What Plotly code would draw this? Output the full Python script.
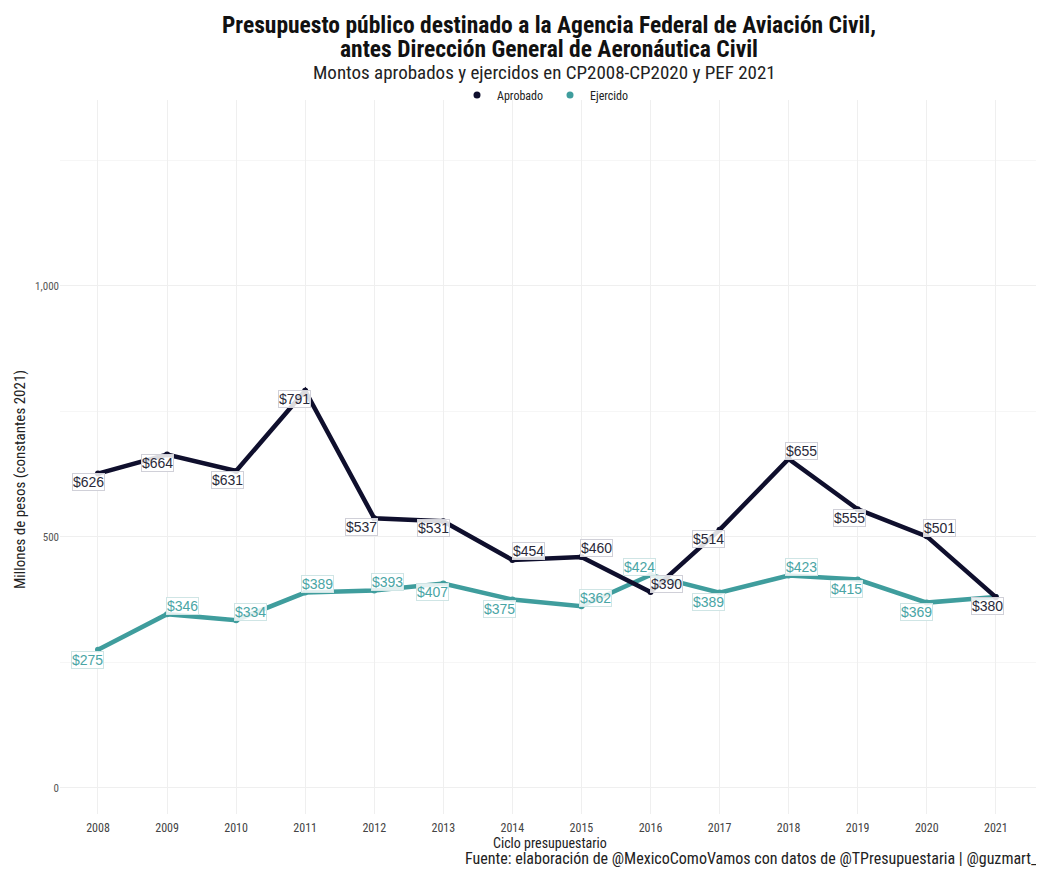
import plotly.graph_objects as go

years = [2008, 2009, 2010, 2011, 2012, 2013, 2014, 2015, 2016, 2017, 2018, 2019, 2020, 2021]
aprobado = [626, 664, 631, 791, 537, 531, 454, 460, 390, 514, 655, 555, 501, 380]
ejercido = [275, 346, 334, 389, 393, 407, 375, 362, 424, 389, 423, 415, 369, 380]
y_ticks = [0, 500, 1000]
y_tick_labels = ["0", "500", "1,000"]

NAVY = "#0f0f2d"
TEAL = "#3f9d9d"
TEAL_TXT = "#4aa5a5"
NARROW = "Liberation Sans Narrow, Arial Narrow, Roboto Condensed, Liberation Sans, sans-serif"
SANS = "Liberation Sans, Arial, sans-serif"

# label offsets (pixels) for the repelled labels: (dx, dy-up)
ap_off = [(-9, -8), (-10, -9), (-9, -9), (-11, -8), (-13, -9), (-10, -7), (16, 9),
          (15, 9), (16, 8), (-11, -9), (13, 8), (-8, -9), (13, 8), (-8, -9)]
ej_off = [(-10, -10), (15, 8), (14, 8), (12, 9), (13, 9), (-11, -8), (-13, -9),
          (14, 8), (-11, 8), (-11, -9), (13, 9), (-11, -9), (-10, -9), None]

# page body adds an 8px margin; the figure is sized so it fills the window
BODY = 8
FIG_W, FIG_H = 1044 - BODY, 870 - BODY
L, R, T, B = 60 - BODY, 1040 - BODY, 100 - BODY, 814 - BODY   # plot area in figure px
PLOT_W, PLOT_H = R - L, B - T

def py(ref_px):
    return 1 - ((ref_px - BODY) - T) / PLOT_H

def px(ref_px):
    return ((ref_px - BODY) - L) / PLOT_W

fig = go.Figure()
fig.add_trace(go.Scatter(x=years, y=ejercido, mode="lines+markers", name="Ejercido", showlegend=False,
                         line=dict(color=TEAL, width=4.5), marker=dict(size=6, color=TEAL)))
fig.add_trace(go.Scatter(x=years, y=aprobado, mode="lines+markers", name="Aprobado", showlegend=False,
                         line=dict(color=NAVY, width=4.5), marker=dict(size=6, color=NAVY)))
# legend entries (points only, like the reference key)
fig.add_trace(go.Scatter(x=[None], y=[None], mode="markers", name="Aprobado",
                         marker=dict(size=7, color=NAVY)))
fig.add_trace(go.Scatter(x=[None], y=[None], mode="markers", name="Ejercido",
                         marker=dict(size=7, color=TEAL)))

annotations = []
for x, v, off in zip(years, aprobado, ap_off):
    annotations.append(dict(x=x, y=v, text=f"${v}", showarrow=False, xshift=off[0], yshift=off[1],
                            font=dict(family=SANS, size=14, color="#2a2a3a"),
                            bgcolor="rgba(255,255,255,0.85)", bordercolor="#d0d0d8",
                            borderwidth=1, borderpad=0))
for x, v, off in zip(years, ejercido, ej_off):
    if off is None:
        continue
    annotations.append(dict(x=x, y=v, text=f"${v}", showarrow=False, xshift=off[0], yshift=off[1],
                            font=dict(family=SANS, size=14, color=TEAL_TXT),
                            bgcolor="rgba(255,255,255,0.85)", bordercolor="#cfe5e5",
                            borderwidth=1, borderpad=0))

annotations += [
    dict(x=px(549), y=py(25), xref="paper", yref="paper", xanchor="center", yanchor="middle", showarrow=False,
         text="<b>Presupuesto público destinado a la Agencia Federal de Aviación Civil,</b>",
         font=dict(family=NARROW, size=23.5, color="#111111")),
    dict(x=px(549), y=py(49), xref="paper", yref="paper", xanchor="center", yanchor="middle", showarrow=False,
         text="<b>antes Dirección General de Aeronáutica Civil</b>",
         font=dict(family=NARROW, size=23.5, color="#111111")),
    dict(x=px(544), y=py(73), xref="paper", yref="paper", xanchor="center", yanchor="middle", showarrow=False,
         text="Montos aprobados y ejercidos en CP2008-CP2020 y PEF 2021",
         font=dict(family=NARROW, size=19, color="#222222")),
    dict(x=px(550), y=py(843), xref="paper", yref="paper", xanchor="center", yanchor="middle", showarrow=False,
         text="Ciclo presupuestario", font=dict(family=NARROW, size=14, color="#222222")),
    dict(x=px(20), y=py(480), xref="paper", yref="paper", xanchor="center", yanchor="middle", showarrow=False,
         textangle=-90, text="Millones de pesos (constantes 2021)",
         font=dict(family=NARROW, size=15, color="#222222")),
    dict(x=px(1040), y=py(858), xref="paper", yref="paper", xanchor="right", yanchor="middle", showarrow=False,
         text="Fuente: elaboración de @MexicoComoVamos con datos de @TPresupuestaria | @guzmart_",
         font=dict(family=NARROW, size=16, color="#222222")),
]

fig.update_layout(
    width=FIG_W, height=FIG_H,
    paper_bgcolor="white", plot_bgcolor="white",
    margin=dict(l=L, r=FIG_W - R, t=T, b=FIG_H - B, autoexpand=False),
    legend=dict(orientation="h", x=px(550), xanchor="center", y=py(95), yanchor="middle",
                font=dict(family=NARROW, size=12, color="#222222"),
                itemwidth=30, bgcolor="rgba(0,0,0,0)", tracegroupgap=0,
                entrywidth=48, entrywidthmode="pixels"),
    annotations=annotations,
    showlegend=True,
)
fig.update_xaxes(range=[2007.45, 2021.64], tickvals=years, ticktext=[str(y) for y in years],
                 showgrid=True, gridcolor="#efefef", gridwidth=1, zeroline=False, automargin=False,
                 tickfont=dict(family=NARROW, size=12, color="#444444"), ticks="", ticklabelstandoff=5)
fig.update_yaxes(range=[-52, 1370], tickvals=y_ticks, ticktext=y_tick_labels,
                 showgrid=True, gridcolor="#efefef", gridwidth=1, zeroline=False, automargin=False,
                 minor=dict(tickvals=[250, 750, 1250], showgrid=True, gridcolor="#f6f6f6", gridwidth=1),
                 tickfont=dict(family=NARROW, size=11, color="#555555"), ticks="")

fig.write_html("out.html")
